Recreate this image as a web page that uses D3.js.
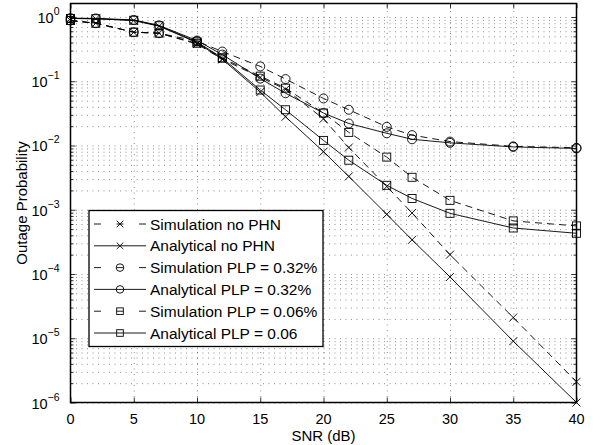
<!DOCTYPE html>
<html><head><meta charset="utf-8">
<script src="https://cdn.jsdelivr.net/npm/d3@7"></script>
<style>
body{margin:0;background:#fff;}
svg{display:block;font-family:"Liberation Sans",Arial,Helvetica,sans-serif;}
</style></head>
<body><svg id="c" width="602" height="445"></svg>
<script>
const snr = [0,2,5,7,10,12,15,17,20,22,25,27,30,35,40];
const simNoPHN   = [0.88,0.80,0.58,0.56,0.38,0.22,0.115,0.075,0.026,0.0093,2.3e-3,8.9e-4,2.0e-4,2.1e-5,2.1e-6];
const anaNoPHN   = [0.95,0.94,0.88,0.72,0.40,0.22,0.068,0.028,8.0e-3,3.3e-3,8.5e-4,3.4e-4,9.0e-5,9.0e-6,1.0e-6];
const sim032     = [0.88,0.80,0.58,0.56,0.42,0.29,0.17,0.108,0.054,0.036,0.0195,0.0145,0.0115,0.0097,0.0092];
const ana032     = [0.96,0.95,0.90,0.74,0.43,0.26,0.11,0.065,0.032,0.022,0.0155,0.0125,0.011,0.0095,0.009];
const sim006     = [0.88,0.80,0.58,0.56,0.39,0.23,0.12,0.078,0.032,0.016,6.6e-3,3.2e-3,1.4e-3,6.7e-4,5.6e-4];
const ana006     = [0.95,0.94,0.89,0.73,0.41,0.23,0.073,0.036,0.012,5.9e-3,2.4e-3,1.5e-3,8.8e-4,5.2e-4,4.3e-4];
const xTicks = [0,5,10,15,20,25,30,35,40];
const yExps = [0,-1,-2,-3,-4,-5,-6];
const labels = ["Simulation no PHN","Analytical no PHN","Simulation PLP = 0.32%","Analytical PLP = 0.32%","Simulation PLP = 0.06%","Analytical PLP = 0.06"];
const xLabel = "SNR (dB)", yLabel = "Outage Probability";

const series = [
  {v:simNoPHN, dash:true,  m:"x"},
  {v:anaNoPHN, dash:false, m:"x"},
  {v:sim032,   dash:true,  m:"o"},
  {v:ana032,   dash:false, m:"o"},
  {v:sim006,   dash:true,  m:"s"},
  {v:ana006,   dash:false, m:"s"}
];

const L=70.5,R=576.5,T=3.5,B=402.5;
const x = d3.scaleLinear().domain([0,40]).range([L,R]);
const y = d3.scaleLog().domain([1e-6, Math.pow(10,0.21)]).range([B,T]);
const svg = d3.select("#c");

const decades = yExps.map(e=>Math.pow(10,e));
const minors = [];
for(let e=-6;e<0;e++) for(let k=2;k<=9;k++) minors.push(k*Math.pow(10,e));

// grid
const gridStyle = g=>{g.select(".domain").remove();g.selectAll("text").remove();
  g.selectAll("line").attr("stroke","#444").attr("stroke-width",0.6).attr("stroke-dasharray","1,4.5");};
svg.append("g").attr("transform",`translate(${L},0)`)
  .call(d3.axisLeft(y).tickValues(decades.concat(minors).filter(v=>v<1.2)).tickSize(-(R-L)).tickFormat(""))
  .call(gridStyle);
svg.append("g").attr("transform",`translate(0,${B})`)
  .call(d3.axisBottom(x).tickValues(xTicks.slice(1,-1)).tickSize(-(B-T)).tickFormat(""))
  .call(gridStyle);

// ticks
const tickStyle = g=>{g.select(".domain").remove();g.selectAll("text").remove();
  g.selectAll("line").attr("stroke","#000").attr("stroke-width",0.8);};
svg.append("g").attr("transform",`translate(0,${B})`).call(d3.axisBottom(x).tickValues(xTicks).tickSize(-5).tickFormat("")).call(tickStyle);
svg.append("g").attr("transform",`translate(0,${T})`).call(d3.axisTop(x).tickValues(xTicks).tickSize(-5).tickFormat("")).call(tickStyle);
svg.append("g").attr("transform",`translate(${L},0)`).call(d3.axisLeft(y).tickValues(decades).tickSize(-5).tickFormat("")).call(tickStyle);
svg.append("g").attr("transform",`translate(${R},0)`).call(d3.axisRight(y).tickValues(decades).tickSize(-5).tickFormat("")).call(tickStyle);
svg.append("g").attr("transform",`translate(${L},0)`).call(d3.axisLeft(y).tickValues(minors).tickSize(-3).tickFormat("")).call(tickStyle);
svg.append("g").attr("transform",`translate(${R},0)`).call(d3.axisRight(y).tickValues(minors).tickSize(-3).tickFormat("")).call(tickStyle);

// tick labels
svg.append("g").selectAll("text").data(xTicks).join("text")
  .attr("x",d=>x(d)).attr("y",B+21).attr("text-anchor","middle")
  .attr("font-size",14.5).text(d=>d);
const yl = svg.append("g").selectAll("text").data(yExps).join("text")
  .attr("x",L-11).attr("y",d=>y(Math.pow(10,d))+6).attr("text-anchor","end").attr("font-size",14.5);
yl.append("tspan").text("10");
yl.append("tspan").attr("dy",-8).attr("font-size",10.5).text(d=>d===0?"0":"\u2212"+(-d));

// axis labels
svg.append("text").attr("x",(L+R)/2).attr("y",441).attr("text-anchor","middle").attr("font-size",15).text(xLabel);
svg.append("text").attr("transform",`translate(27,${(T+B)/2}) rotate(-90)`).attr("text-anchor","middle").attr("font-size",15).text(yLabel);

// markers
function marker(g,m,cx,cy,sz){
  const h = sz;
  if(m==="o") g.append("circle").attr("cx",cx).attr("cy",cy).attr("r",h+0.5).attr("fill","none").attr("stroke","#000").attr("stroke-width",0.9);
  else if(m==="s") g.append("rect").attr("x",cx-h).attr("y",cy-h).attr("width",2*h).attr("height",2*h).attr("fill","none").attr("stroke","#000").attr("stroke-width",0.9);
  else g.append("path").attr("d",`M${cx-h},${cy-h}L${cx+h},${cy+h}M${cx-h},${cy+h}L${cx+h},${cy-h}`).attr("stroke","#000").attr("stroke-width",0.9);
}

const plot = svg.append("g");
const line = d3.line().x((d,i)=>x(snr[i])).y(d=>y(d));
series.forEach(s=>{
  plot.append("path").attr("d",line(s.v)).attr("fill","none").attr("stroke","#000")
    .attr("stroke-width",0.9).attr("stroke-dasharray",s.dash?"7,5":null);
  const g = plot.append("g");
  s.v.forEach((v,i)=>marker(g,s.m,x(snr[i]),y(v),4));
});

// frame
svg.append("rect").attr("x",L).attr("y",T).attr("width",R-L).attr("height",B-T)
  .attr("fill","none").attr("stroke","#000").attr("stroke-width",1.5);

// legend
const lg = svg.append("g");
lg.append("rect").attr("x",89).attr("y",210.5).attr("width",234).attr("height",136)
  .attr("fill","#fff").attr("stroke","#000").attr("stroke-width",1.3);
series.forEach((s,i)=>{
  const cy = 224 + i*21.8;
  lg.append("line").attr("x1",94).attr("x2",146).attr("y1",cy).attr("y2",cy)
    .attr("stroke","#000").attr("stroke-width",0.9).attr("stroke-dasharray",s.dash?"7,15.5":null);
  marker(lg,s.m,120,cy,3.3);
  lg.append("text").attr("x",150).attr("y",cy+5.5).attr("font-size",15.5).text(labels[i]);
});
</script></body></html>
